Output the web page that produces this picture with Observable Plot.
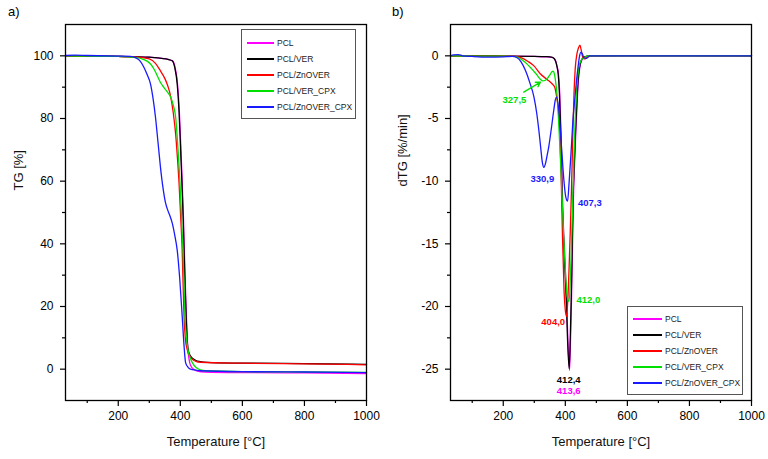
<!DOCTYPE html>
<html><head><meta charset="utf-8">
<script src="https://cdn.jsdelivr.net/npm/d3@7"></script>
<script src="https://cdn.jsdelivr.net/npm/@observablehq/plot@0.6"></script>
<style>
body{margin:0;background:#fff;font-family:"Liberation Sans",Arial,sans-serif;}
#wrap{position:relative;width:768px;height:459px;overflow:hidden;}
.panel{position:absolute;top:0;width:384px;height:459px;}
.tag{position:absolute;font-size:13px;color:#000;}
.legend{position:absolute;border:1px solid #555;background:#fff;box-sizing:border-box;}
.item{position:absolute;font-size:8.5px;color:#222;white-space:nowrap;line-height:10px;}
.sw{position:absolute;height:2px;}
</style></head>
<body>
<div id="wrap">
  <div class="panel" id="pa" style="left:0"></div>
  <div class="panel" id="pb" style="left:384px"></div>
  <div class="tag" style="left:8px;top:4px">a)</div>
  <div class="tag" style="left:392px;top:4px">b)</div>
  <div class="legend" id="lega" style="left:241px;top:29px;width:115px;height:90px"></div>
  <div class="legend" id="legb" style="left:627px;top:306px;width:116px;height:89px"></div>
</div>
<script>
// ---- series names and colours
const names = ["PCL", "PCL/VER", "PCL/ZnOVER", "PCL/VER_CPX", "PCL/ZnOVER_CPX"];
const colors = ["#ff00ff", "#000000", "#ff0000", "#00e000", "#1a1aff"];

// ---- TG [%] vs temperature [°C]
const tgPCL = [[30,100],[100,99.9],[200,99.8],[300,99.6],[340,99.2],[360,98.9],[375,98.4],[383,96.3],[391,91],[397,82],[402,70],[406,60],[410,48.7],[416,27.5],[420,16],[424,7],[428,3.2],[434,1.0],[444,-0.1],[455,-0.6],[480,-0.9],[600,-1.1],[800,-1.2],[1000,-1.4]];
const tgVER = [[30,100],[100,99.9],[200,99.8],[300,99.6],[340,99.2],[360,98.9],[374,98.4],[382,96.3],[390,91],[396,82],[401,70],[405,60],[409,48.7],[415,27.5],[419,16],[422.5,8.5],[427,5.5],[433,4.2],[445,3.1],[455,2.6],[500,2.1],[600,1.9],[800,1.8],[1000,1.5]];
const tgZnOVER = [[30,100],[100,99.9],[200,99.8],[260,99.6],[300,99.0],[320,97.6],[336,95.2],[350,92.8],[360,90.3],[369,87],[377,82],[385,75],[391,67],[396,59.3],[401,49],[406,38],[409,27],[412,17],[416,10],[422,6.3],[430,4.2],[438,3.2],[450,2.5],[465,2.2],[600,1.9],[800,1.7],[1000,1.4]];
const tgVERCPX = [[30,100],[100,99.9],[200,99.8],[260,99.4],[280,98.9],[293,98.3],[304,97.4],[315,95.8],[325,93.8],[336,91.5],[348,89.8],[358,88.5],[369,86.8],[378,84],[385,80.4],[392,71],[399,59.3],[404,48],[408.6,38],[412,27],[415,17],[419,11],[424.5,6.3],[431,3.8],[438.7,2.1],[450,0.6],[465,-0.2],[480,-0.5],[600,-0.8],[800,-0.9],[1000,-1.0]];
const tgZnOVERCPX = [[30,100.1],[60,100.2],[100,100.1],[200,99.9],[240,99.8],[255,99.4],[270,98.4],[283,96.3],[294,93.8],[304,91],[312,86.5],[320,80.4],[328,72.5],[336,64.5],[344,58],[352,53.2],[360,50.6],[367,48.8],[374,46.6],[382,42.8],[390,38],[398,29],[406,17],[412,7.5],[417,2.1],[425,0.6],[433,0],[450,-0.3],[465,-0.5],[600,-0.8],[800,-0.9],[1000,-1.1]];

// ---- dTG [%/min] vs temperature [°C]
const dtgPCL = [[30,0],[100,0],[200,-0.02],[300,-0.05],[340,-0.08],[358,-0.13],[366,-0.28],[370,-0.5],[374,-0.9],[378,-1.45],[382,-3],[386,-6],[391,-11.5],[397,-15.5],[404,-19.4],[408,-22.5],[413.6,-25.1],[417,-22.5],[420,-19.4],[423,-15.5],[426,-11.5],[430,-8.5],[434,-6],[438,-3.8],[442,-2],[447,-0.9],[452,-0.4],[462,-0.1],[480,0],[600,0.02],[1000,0]];
const dtgVER = [[30,0],[100,0],[200,-0.02],[300,-0.04],[340,-0.07],[358,-0.12],[365,-0.25],[369,-0.45],[373,-0.85],[377,-1.45],[381,-3],[385,-6],[390,-11.5],[396,-15.5],[403,-19.4],[407,-22.5],[412.4,-24.95],[416,-22.5],[419,-19.4],[422,-15.5],[425,-11.5],[429,-8.5],[433,-6],[437,-3.8],[441,-2],[446,-0.9],[451,-0.4],[460,-0.1],[480,0],[600,0.02],[1000,0]];
const dtgZnOVER = [[30,0],[100,-0.02],[200,-0.03],[240,-0.05],[255,-0.13],[280,-0.45],[299,-0.8],[320,-1.45],[342,-1.9],[358,-2.25],[366,-2.5],[371,-3.1],[377,-4.2],[383,-6.5],[387,-10],[391,-14.5],[396,-18.8],[400,-20.3],[404,-20.8],[408,-19.5],[412,-17],[416,-14],[420,-10.5],[424,-6.5],[428,-3],[432,-1],[437,0.1],[442,0.6],[447,0.85],[451,0.5],[456,-0.1],[462,-0.25],[470,-0.1],[480,0],[1000,0]];
const dtgVERCPX = [[30,0],[100,-0.02],[200,-0.03],[230,-0.05],[245,-0.1],[262,-0.35],[277,-0.66],[290,-1.0],[299,-1.25],[308,-1.5],[317,-1.8],[327.5,-2.0],[336,-1.95],[344,-1.75],[352,-1.45],[358,-1.25],[362,-1.25],[366,-1.6],[370,-2.3],[374,-3.3],[379,-5.5],[385,-8.6],[390,-11.5],[395,-14.5],[401,-17.5],[406,-19.2],[412,-19.6],[416,-18],[420,-15],[424,-11.5],[428,-8],[432,-5],[437,-2.5],[443,-1.0],[450,-0.4],[460,-0.15],[475,0],[1000,0]];
const dtgZnOVERCPX = [[30,0],[40,0.08],[55,0.1],[70,0],[100,-0.05],[150,-0.1],[200,-0.08],[230,-0.05],[245,-0.15],[258,-0.5],[272,-1.2],[285,-2.1],[299,-3.3],[308,-4.6],[315,-6.0],[321,-7.4],[326,-8.5],[330.9,-8.9],[336,-8.6],[341,-8.0],[347,-7.2],[355,-5.8],[363,-4.3],[368,-3.5],[372,-3.3],[380,-4.6],[387,-7.0],[395,-9.8],[401,-11.2],[407.3,-11.6],[412,-10.2],[419,-7.5],[425,-5],[430,-3.6],[436,-2],[441,-0.9],[446,0],[450,0.27],[455,0.15],[460,-0.15],[468,-0.2],[480,0],[1000,0]];

// ---- peak annotations (text, temperature, dTG)
const peakText = ["327,5", "330,9", "407,3", "412,0", "404,0", "412,4", "413,6"];
const peakT    = [236, 326, 479, 474, 361, 411, 411];
const peakV    = [-3.5, -9.8, -11.7, -19.45, -21.2, -25.85, -26.75];
const peakSeries = [3, 4, 4, 3, 2, 1, 0];
const arrowFrom = [266, -2.9];
const arrowTo = [320, -2.1];

// ---- ticks
const xMajor = [200, 400, 600, 800, 1000];
const xMinor = [100, 300, 500, 700, 900];
const yMajorA = [0, 20, 40, 60, 80, 100];
const yMinorA = [10, 30, 50, 70, 90];
const yMajorB = [0, -5, -10, -15, -20, -25];
const yMinorB = [-2.5, -7.5, -12.5, -17.5, -22.5];

const tgSets = [tgPCL, tgVER, tgZnOVER, tgVERCPX, tgZnOVERCPX];
const dtgSets = [dtgPCL, dtgVER, dtgZnOVER, dtgVERCPX, dtgZnOVERCPX];
const toRows = sets => sets.flatMap((arr, i) => arr.map(([T, v]) => ({s: names[i], T, v})));
const tgRows = toRows(tgSets);
const dtgRows = toRows(dtgSets);
const peaks = peakText.map((t, i) => ({t, T: peakT[i], v: peakV[i], c: colors[peakSeries[i]]}));

const font = "'Liberation Sans', Arial, sans-serif";
const fmt = d => String(d);

function panel(rows, yDomain, yMajor, yMinor, yTitle, marginLeft, marginRight, titleDx, titleDy, extra) {
  return Plot.plot({
    width: 384, height: 459,
    marginLeft, marginRight, marginTop: 24, marginBottom: 59,
    style: {fontFamily: font, fontSize: "12px", background: "transparent", color: "#000", overflow: "visible"},
    x: {domain: [30, 1000]},
    y: {domain: yDomain},
    color: {domain: names, range: colors},
    marks: [
      Plot.axisX(xMajor, {tickSize: 6, tickPadding: 5, tickFormat: fmt, label: null, strokeWidth: 1.2}),
      Plot.axisX(xMinor, {tickSize: 3, tickFormat: () => "", label: null, strokeWidth: 1.2}),
      Plot.axisY(yMajor, {tickSize: 5, tickPadding: 7, tickFormat: fmt, label: null, strokeWidth: 1.2}),
      Plot.axisY(yMinor, {tickSize: 3, tickFormat: () => "", label: null, strokeWidth: 1.2}),
      Plot.line(rows, {x: "T", y: "v", z: "s", stroke: "s", strokeWidth: 1.3, curve: "monotone-x"}),
      ...extra,
      Plot.frame({stroke: "#000", strokeWidth: 1.3}),
      Plot.text(["Temperature [°C]"], {frameAnchor: "bottom", dy: 45, fontSize: 13, fill: "#111"}),
      Plot.text([yTitle], {frameAnchor: "left", rotate: -90, dx: titleDx, dy: titleDy, fontSize: 13, fill: "#111"})
    ]
  });
}

document.getElementById("pa").append(
  panel(tgRows, [-10, 110], yMajorA, yMinorA, "TG [%]", 65, 18, -47, -22, [])
);

document.getElementById("pb").append(
  panel(dtgRows, [-27.5, 2.5], yMajorB, yMinorB, "dTG [%/min]", 66, 17, -48, -26, [
    Plot.arrow([0], {x1: () => arrowFrom[0], y1: () => arrowFrom[1], x2: () => arrowTo[0], y2: () => arrowTo[1],
      stroke: colors[3], strokeWidth: 1.3, headLength: 6}),
    Plot.text(peaks, {x: "T", y: "v", text: "t", fill: "c", fontWeight: "bold", fontSize: 9.5})
  ])
);

// ---- legends (HTML)
function legend(id, rowTops, swL, swW, txtL) {
  const el = document.getElementById(id);
  names.forEach((n, i) => {
    const sw = document.createElement("div");
    sw.className = "sw";
    sw.style.left = swL + "px";
    sw.style.width = swW + "px";
    sw.style.top = (rowTops[i] - 1) + "px";
    sw.style.backgroundColor = colors[i];
    el.append(sw);
    const tx = document.createElement("div");
    tx.className = "item";
    tx.style.left = txtL + "px";
    tx.style.top = (rowTops[i] - 5) + "px";
    tx.textContent = n;
    el.append(tx);
  });
}
legend("lega", [13, 28.5, 44.5, 60.5, 76.5], 5, 27, 35);
legend("legb", [12, 28, 44, 60, 76], 5, 29, 37);
</script>
</body></html>
